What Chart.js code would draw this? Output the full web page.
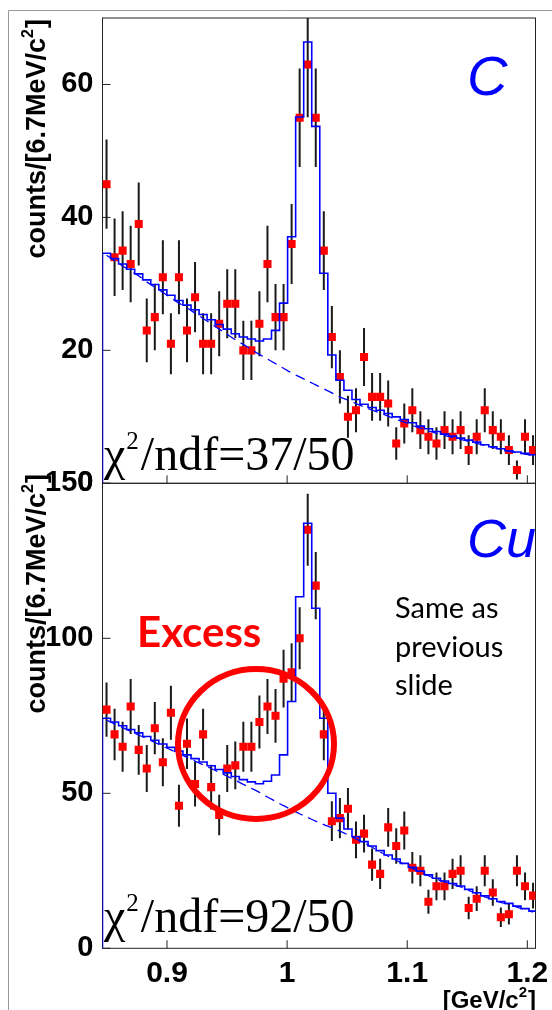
<!DOCTYPE html>
<html><head><meta charset="utf-8">
<script src="https://cdn.jsdelivr.net/npm/chart.js@4.4.0/dist/chart.umd.min.js"></script>
<style>
html,body{margin:0;padding:0;background:#fff;}
#wrap{position:relative;width:552px;height:1010px;overflow:hidden;background:#fff;}
canvas{position:absolute;left:0;top:0;}
</style></head><body>
<div id="wrap"><canvas id="cTop" width="552" height="1010"></canvas><canvas id="cBot" width="552" height="1010"></canvas></div>
<script>
// ---- axis / binning ----
const MASS_MIN = 0.8463;
const MASS_MAX = 1.2068;
const BIN_WIDTH = 0.0067;
const X_TICKS = [0.9, 1.0, 1.1, 1.2];
const X_TICK_LABELS = ['0.9', '1', '1.1', '1.2'];
const C_Y_TICKS = [0, 20, 40, 60];
const C_Y_TICK_LABELS = ['0', '20', '40', '60'];
const CU_Y_TICKS = [0, 50, 100, 150];
const CU_Y_TICK_LABELS = ['0', '50', '100', '150'];

// ---- C target ----
const C_COUNTS = [45,34,35,33,39,23,25,31,21,31,23,28,21,21,24,27,27,20,20,24,33,25,25,36,55,63,55,35,22,16,10,11,19,13,13,12,6,9,11,8,7,6,8,7,8,5,7,11,8,7,5,2,7,5];
const C_FIT = [34.6,33.8,33.0,32.2,31.5,30.6,29.9,29.1,28.3,27.5,26.8,26.1,25.4,24.6,23.9,23.2,22.5,22.0,21.7,21.4,21.7,23.0,27.1,37.1,55.1,66.4,53.7,31.6,19.3,15.5,14.0,12.6,11.9,11.4,11.0,10.5,10.0,9.6,9.1,8.6,8.2,7.8,7.4,7.1,6.8,6.5,6.2,5.8,5.5,5.2,4.9,4.7,4.5,4.3];
const C_BG = [34.3,33.5,32.7,31.9,31.2,30.3,29.5,28.7,27.9,27.1,26.4,25.6,24.8,24.0,23.2,22.4,21.6,20.9,20.1,19.4,18.7,18.0,17.3,16.6,16.0,15.4,14.8,14.2,13.6,13.0,12.5,12.0,11.5,11.0,10.6,10.1,9.6,9.2,8.7,8.3,7.9,7.5,7.2,6.9,6.6,6.3,6.0,5.7,5.4,5.1,4.8,4.6,4.4,4.2];

// ---- Cu target ----
const CU_COUNTS = [77,69,65,78,64,58,71,60,76,46,66,53,69,52,43,58,59,65,65,73,78,75,87,89,100,135,117,69,41,42,45,35,37,27,24,39,33,38,26,25,15,20,20,24,25,13,16,25,18,10,11,25,20,17];
const CU_FIT = [74.2,73.0,71.8,70.6,69.5,68.3,67.1,65.9,64.8,63.6,62.4,61.2,60.1,58.9,57.7,56.6,55.4,54.4,53.7,53.1,53.9,55.9,62.4,79.6,113.4,137.1,109.7,74.2,50.0,42.0,38.5,36.0,34.4,33.0,31.5,30.1,28.8,27.4,26.1,24.9,23.7,22.6,21.7,20.9,20.1,19.0,17.9,16.9,16.0,15.1,14.5,13.6,12.8,12.0];
const CU_BG = [73.6,72.4,71.2,70.0,68.8,67.6,66.4,65.2,64.0,62.8,61.6,60.4,59.2,58.0,56.8,55.5,54.2,52.9,51.6,50.3,48.8,47.4,46.0,44.7,43.4,42.2,41.0,39.9,38.9,37.8,36.6,35.3,34.0,32.6,31.1,29.7,28.4,27.1,25.8,24.6,23.4,22.3,21.4,20.6,19.8,18.7,17.6,16.6,15.7,14.8,14.2,13.3,12.5,11.7];

Chart.defaults.font.family = '"Liberation Sans", Arial, sans-serif';

function binCenter(i) { return MASS_MIN + (i + 0.5) * BIN_WIDTH; }
function binEdge(k) { return MASS_MIN + k * BIN_WIDTH; }
function stepData(vals) {
  const d = [{x: binEdge(0), y: 0}];
  vals.forEach((v, i) => d.push({x: binEdge(i), y: v}));
  d.push({x: binEdge(vals.length), y: vals[vals.length - 1]});
  return d;
}

function drawYTitle(ctx, baseX, endY) {
  ctx.save();
  ctx.translate(baseX, endY);
  ctx.rotate(-Math.PI / 2);
  ctx.fillStyle = '#000';
  ctx.textBaseline = 'alphabetic';
  ctx.textAlign = 'left';
  const big = 'bold 27px "Liberation Sans", Arial, sans-serif';
  const small = 'bold 16px "Liberation Sans", Arial, sans-serif';
  const p1 = 'counts/[6.7MeV/c', p2 = '2', p3 = ']';
  ctx.font = big; const w1 = ctx.measureText(p1).width, w3 = ctx.measureText(p3).width;
  ctx.font = small; const w2 = ctx.measureText(p2).width;
  let x0 = -(w1 + w2 + w3 + 1);
  ctx.font = big; ctx.fillText(p1, x0, 0);
  ctx.font = small; ctx.fillText(p2, x0 + w1, -12);
  ctx.font = big; ctx.fillText(p3, x0 + w1 + w2 + 1, 0);
  ctx.restore();
}

function drawChi(ctx, x, base, txt) {
  ctx.save();
  ctx.fillStyle = '#000';
  ctx.textAlign = 'left';
  ctx.textBaseline = 'alphabetic';
  ctx.font = '48px "Liberation Serif", "Times New Roman", serif';
  ctx.fillText('\u03C7', x, base);
  const w = ctx.measureText('\u03C7').width;
  ctx.font = '25px "Liberation Serif", "Times New Roman", serif';
  ctx.fillText('2', x + w + 1, base - 21);
  const w2 = ctx.measureText('2').width;
  ctx.font = '48px "Liberation Serif", "Times New Roman", serif';
  ctx.fillText('/ndf=' + txt, x + w + w2 + 3, base);
  ctx.restore();
}

function makePanel(id, cfg) {
  const plugin = {
    id: 'panelDeco',
    beforeDatasetsDraw(chart) {
      const {ctx, chartArea: a, scales: {x, y}} = chart;
      ctx.save();
      ctx.strokeStyle = '#222';
      ctx.lineWidth = 1;
      ctx.strokeRect(a.left, a.top, a.right - a.left, a.bottom - a.top);
      ctx.beginPath();
      cfg.yTicks.forEach(v => { const py = y.getPixelForValue(v); ctx.moveTo(a.left, py); ctx.lineTo(a.left + 8, py); });
      X_TICKS.forEach(v => { const px = x.getPixelForValue(v); ctx.moveTo(px, a.bottom); ctx.lineTo(px, a.bottom - 8); });
      ctx.stroke();
      ctx.beginPath();
      ctx.rect(a.left, a.top, a.right - a.left, a.bottom - a.top);
      ctx.clip();
      ctx.strokeStyle = '#1a1a1a';
      ctx.lineWidth = 2;
      ctx.beginPath();
      cfg.counts.forEach((c, i) => {
        const e = Math.sqrt(c);
        const px = x.getPixelForValue(binCenter(i));
        ctx.moveTo(px, y.getPixelForValue(c + e));
        ctx.lineTo(px, y.getPixelForValue(Math.max(0, c - e)));
      });
      ctx.stroke();
      ctx.restore();
    },
    afterDraw(chart) { cfg.drawText(chart.ctx, chart); }
  };
  return new Chart(document.getElementById(id), {
    type: 'line',
    data: {
      datasets: [
        { label: 'fit', data: stepData(cfg.fit), stepped: 'before', borderColor: '#0000ff', borderWidth: 1.6, pointRadius: 0, fill: false, order: 1 },
        { label: 'background', data: cfg.bg.map((v, i) => ({x: binCenter(i), y: v})), borderColor: '#0000ff', borderWidth: 1.3, borderDash: [10, 6], pointRadius: 0, fill: false, cubicInterpolationMode: 'monotone', order: 2 },
        { label: 'data', data: cfg.counts.map((c, i) => ({x: binCenter(i), y: c})), showLine: false, pointStyle: 'rect', pointRadius: 5.7, pointBackgroundColor: '#ff0000', pointBorderWidth: 0, borderColor: '#ff0000', order: 3 }
      ]
    },
    options: {
      responsive: false, animation: false, devicePixelRatio: 1,
      layout: { padding: { left: 0, right: 16.5, top: cfg.padTop, bottom: cfg.padBottom } },
      plugins: { legend: { display: false }, tooltip: { enabled: false } },
      scales: {
        x: {
          type: 'linear', min: MASS_MIN, max: MASS_MAX,
          grid: { display: false, drawTicks: false }, border: { display: false },
          afterBuildTicks(s) { s.ticks = X_TICKS.map(v => ({value: v})); },
          ticks: { display: cfg.showX, autoSkip: false, maxRotation: 0, padding: 7, color: '#000', font: { size: 30, weight: 'bold' }, callback: (v, i) => X_TICK_LABELS[i] },
          afterFit(s) { s.height = cfg.xH; s.paddingLeft = 0; s.paddingRight = 0; }
        },
        y: {
          type: 'linear', min: 0, max: cfg.yMax,
          grid: { display: false, drawTicks: false }, border: { display: false },
          afterBuildTicks(s) { s.ticks = cfg.yTicks.map(v => ({value: v})); },
          ticks: { padding: 9, color: '#000', font: { size: 29, weight: 'bold' }, callback: (v, i) => cfg.yLabels[i] },
          afterFit(s) { s.width = 102.5; s.paddingTop = 0; s.paddingBottom = 0; }
        }
      }
    },
    plugins: [plugin]
  });
}

makePanel('cTop', {
  counts: C_COUNTS, fit: C_FIT, bg: C_BG, yTicks: C_Y_TICKS, yLabels: C_Y_TICK_LABELS, yMax: 70,
  padTop: 18, padBottom: 516.7, xH: 10, showX: false,
  drawText(ctx) {
    ctx.save();
    // outer slide frame
    ctx.strokeStyle = '#9a9a9a'; ctx.lineWidth = 1;
    ctx.beginPath(); ctx.moveTo(8.5, 1010); ctx.lineTo(8.5, 10.5); ctx.lineTo(552, 10.5); ctx.stroke();
    drawYTitle(ctx, 45, 19);
    ctx.fillStyle = '#0000ff';
    ctx.font = 'italic 56px "Liberation Sans", Arial, sans-serif';
    ctx.textAlign = 'left'; ctx.textBaseline = 'alphabetic';
    ctx.fillText('C', 467, 95);
    ctx.restore();
    drawChi(ctx, 104, 470, '37/50');
  }
});

makePanel('cBot', {
  counts: CU_COUNTS, fit: CU_FIT, bg: CU_BG, yTicks: CU_Y_TICKS, yLabels: CU_Y_TICK_LABELS, yMax: 150,
  padTop: 483.3, padBottom: 21.7, xH: 40, showX: true,
  drawText(ctx) {
    ctx.save();
    drawYTitle(ctx, 45, 474);
    ctx.textAlign = 'left'; ctx.textBaseline = 'alphabetic';
    ctx.fillStyle = '#0000ff';
    ctx.font = 'italic 54px "Liberation Sans", Arial, sans-serif';
    ctx.fillText('Cu', 467, 557);
    ctx.fillStyle = '#ff0000';
    ctx.font = 'bold 42px Lato, "Open Sans", sans-serif';
    ctx.fillText('Excess', 137, 647);
    ctx.fillStyle = '#000';
    ctx.font = '29px Lato, "Open Sans", sans-serif';
    ctx.fillText('Same as', 395, 618);
    ctx.fillText('previous', 395, 657);
    ctx.fillText('slide', 395, 695);
    ctx.strokeStyle = '#ff0000'; ctx.lineWidth = 6;
    ctx.beginPath(); ctx.ellipse(256, 744, 78, 75, 0, 0, Math.PI * 2); ctx.stroke();
    // x title
    ctx.fillStyle = '#000';
    const big = 'bold 24px "Liberation Sans", Arial, sans-serif';
    const small = 'bold 15px "Liberation Sans", Arial, sans-serif';
    ctx.font = big; const w1 = ctx.measureText('[GeV/c').width, w3 = ctx.measureText(']').width;
    ctx.font = small; const w2 = ctx.measureText('2').width;
    let x0 = 536 - (w1 + w2 + w3 + 1);
    ctx.font = big; ctx.fillText('[GeV/c', x0, 1008);
    ctx.font = small; ctx.fillText('2', x0 + w1, 997);
    ctx.font = big; ctx.fillText(']', x0 + w1 + w2 + 1, 1008);
    ctx.restore();
    drawChi(ctx, 104, 932, '92/50');
  }
});
</script>
</body></html>
